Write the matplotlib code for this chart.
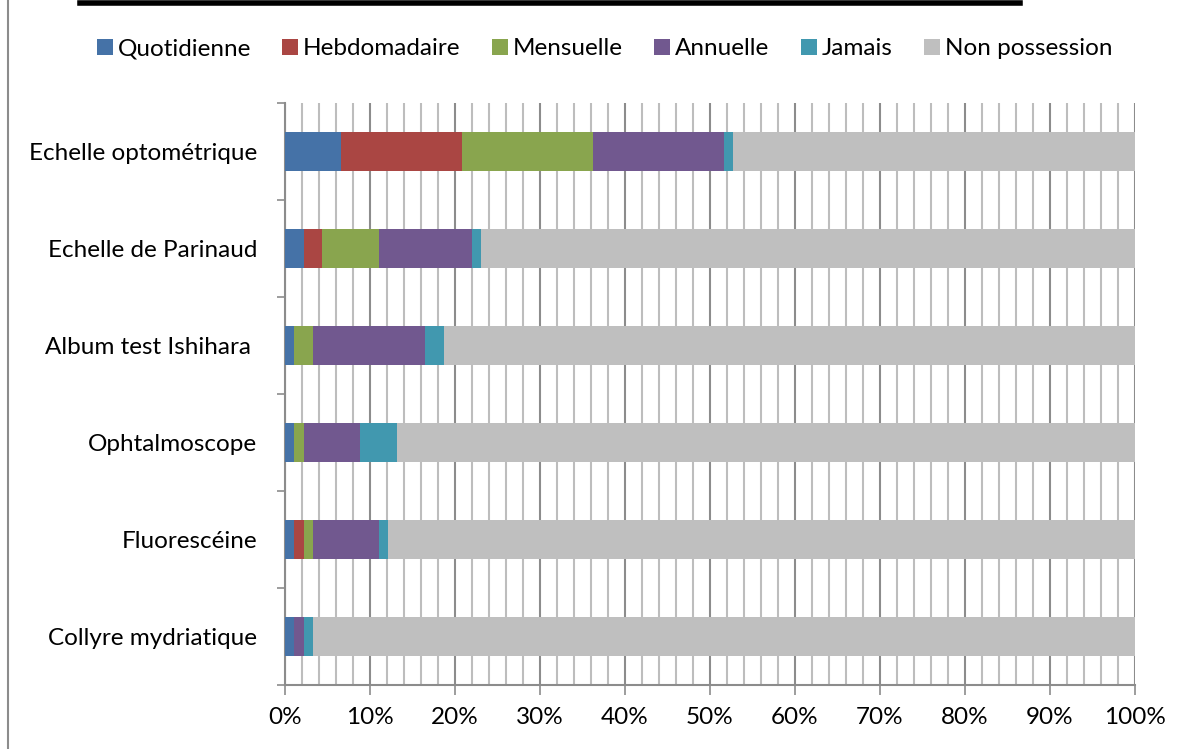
import numpy as np
import matplotlib.pyplot as plt
from matplotlib.lines import Line2D

# ---------------------------------------------------------------- data
categories = ['Echelle optométrique', 'Echelle de Parinaud', 'Album test Ishihara ',
              'Ophtalmoscope', 'Fluorescéine', 'Collyre mydriatique']
series = ['Quotidienne', 'Hebdomadaire', 'Mensuelle', 'Annuelle', 'Jamais', 'Non possession']

# percentages per category, in series order
quotidienne   = [6.6, 2.2, 1.1, 1.1, 1.1, 1.1]
hebdomadaire  = [14.3, 2.2, 0.0, 0.0, 1.1, 0.0]
mensuelle     = [15.4, 6.6, 2.2, 1.1, 1.1, 0.0]
annuelle      = [15.4, 11.0, 13.2, 6.6, 7.7, 1.1]
jamais        = [1.1, 1.1, 2.2, 4.4, 1.1, 1.1]
non_possession = [47.3, 76.9, 81.3, 86.8, 87.9, 96.7]

colors = ['#4572A7', '#AA4643', '#89A54E', '#71588F', '#4198AF', '#BFBFBF']

# ---------------------------------------------------------------- processing
values = np.array([quotidienne, hebdomadaire, mensuelle, annuelle, jamais, non_possession])
values = values / values.sum(axis=0) * 100.0   # 100 % stacked
y = np.arange(len(categories))[::-1]

# ---------------------------------------------------------------- plot
plt.rcParams['font.family'] = ['Lato', 'DejaVu Sans']
fs = 17.5
fig = plt.figure(figsize=(11.9, 7.49), dpi=100)
ax = fig.add_axes([285 / 1190, 1 - 685 / 749, 850 / 1190, 582 / 749])

left = np.zeros(len(categories))
for vals, name, col in zip(values, series, colors):
    ax.barh(y, vals, left=left, height=0.4, color=col, label=name, linewidth=0, zorder=3)
    left += vals

ax.set_xlim(0, 100)
ax.set_ylim(-0.5, len(categories) - 0.5)

# grid: minor every 2 %, major every 10 %
ax.set_xticks(np.arange(0, 101, 10))
ax.set_xticks(np.arange(0, 101, 2), minor=True)
ax.set_xticklabels([f'{v}%' for v in range(0, 101, 10)], fontsize=fs)
ax.grid(axis='x', which='minor', color='#BDBDBD', linewidth=1.5, zorder=0)
ax.grid(axis='x', which='major', color='#8C8C8C', linewidth=1.5, zorder=1)
ax.tick_params(axis='x', which='major', direction='out', length=7, width=1.2,
               color='#8C8C8C', pad=9)
ax.tick_params(axis='x', which='minor', length=0)

ax.set_yticks(y)
ax.set_yticklabels(categories, fontsize=fs)
ax.set_yticks(np.arange(-0.5, len(categories), 1), minor=True)
ax.tick_params(axis='y', which='major', length=0, pad=20)
ax.tick_params(axis='y', which='minor', direction='out', length=6, width=1.2, color='#8C8C8C')

for side in ['top', 'right']:
    ax.spines[side].set_visible(False)
for side in ['left', 'bottom']:
    ax.spines[side].set_color('#8C8C8C')
    ax.spines[side].set_linewidth(1.5)

fig.legend(loc='center', bbox_to_anchor=(0.508, 0.935), ncol=6, frameon=False,
           fontsize=fs, handlelength=0.65, handleheight=0.65, handletextpad=0.2,
           columnspacing=1.3)

# outer frame fragments
fig.add_artist(Line2D([8 / 1190, 8 / 1190], [0, 1], color='#8C8C8C', linewidth=1.5))
fig.add_artist(Line2D([80 / 1190, 1020 / 1190], [1 - 3 / 749, 1 - 3 / 749],
                      color='black', linewidth=4))

fig.savefig('out.png', dpi=100)
